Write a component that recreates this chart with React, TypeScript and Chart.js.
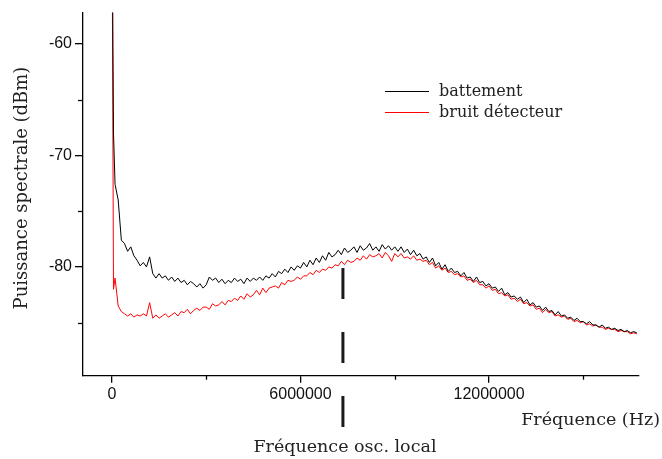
import React, { useEffect, useRef } from "react";
import { Chart, registerables } from "chart.js";

Chart.register(...registerables);

// Frequencies in MHz (converted to Hz for the axis)
const FREQ_MHZ = [
  0, 0.05,
  0.1, 0.2, 0.3, 0.4, 0.5, 0.6, 0.7, 0.8, 0.9, 1.0,
  1.1, 1.2, 1.3, 1.4, 1.5, 1.6, 1.7, 1.8, 1.9, 2.0,
  2.1, 2.2, 2.3, 2.4, 2.5, 2.6, 2.7, 2.8, 2.9, 3.0,
  3.1, 3.2, 3.3, 3.4, 3.5, 3.6, 3.7, 3.8, 3.9, 4.0,
  4.1, 4.2, 4.3, 4.4, 4.5, 4.6, 4.7, 4.8, 4.9, 5.0,
  5.1, 5.2, 5.3, 5.4, 5.5, 5.6, 5.7, 5.8, 5.9, 6.0,
  6.1, 6.2, 6.3, 6.4, 6.5, 6.6, 6.7, 6.8, 6.9, 7.0,
  7.1, 7.2, 7.3, 7.4, 7.5, 7.6, 7.7, 7.8, 7.9, 8.0,
  8.1, 8.2, 8.3, 8.4, 8.5, 8.6, 8.7, 8.8, 8.9, 9.0,
  9.1, 9.2, 9.3, 9.4, 9.5, 9.6, 9.7, 9.8, 9.9, 10.0,
  10.1, 10.2, 10.3, 10.4, 10.5, 10.6, 10.7, 10.8, 10.9, 11.0,
  11.1, 11.2, 11.3, 11.4, 11.5, 11.6, 11.7, 11.8, 11.9, 12.0,
  12.1, 12.2, 12.3, 12.4, 12.5, 12.6, 12.7, 12.8, 12.9, 13.0,
  13.1, 13.2, 13.3, 13.4, 13.5, 13.6, 13.7, 13.8, 13.9, 14.0,
  14.1, 14.2, 14.3, 14.4, 14.5, 14.6, 14.7, 14.8, 14.9, 15.0,
  15.1, 15.2, 15.3, 15.4, 15.5, 15.6, 15.7, 15.8, 15.9, 16.0,
  16.1, 16.2, 16.3, 16.4, 16.5, 16.6, 16.7,
];

const BATTEMENT_DBM = [
  -45, -68,
  -72.6, -74.0, -77.6, -77.9, -78.6, -78.2, -79.0, -79.4, -79.9, -79.6,
  -80.0, -79.1, -80.6, -81.0, -80.6, -81.0, -80.8, -81.2, -80.9, -81.3,
  -81.0, -81.4, -81.2, -81.6, -81.3, -81.5, -81.8, -81.5, -81.9, -81.6,
  -80.9, -81.2, -81.0, -81.4, -81.1, -81.5, -81.2, -81.4, -81.0, -81.3,
  -81.1, -81.5, -81.0, -81.3, -81.0, -81.2, -80.9, -81.2, -80.8, -81.0,
  -80.6, -80.9, -80.4, -80.6, -80.2, -80.5, -80.0, -80.3, -79.9, -80.1,
  -79.6, -80.0, -79.4, -79.8, -79.2, -79.6, -79.0, -79.4, -78.7, -79.1,
  -78.9, -78.5, -78.9, -78.3, -78.7, -78.5, -78.2, -78.7, -78.1, -78.5,
  -78.3, -77.9, -78.5, -78.2, -78.6, -78.0, -78.4, -78.1, -78.5, -78.2,
  -78.6, -78.2, -78.7, -78.4, -78.9, -78.5, -79.0, -78.8, -79.3, -79.1,
  -79.6, -79.2, -79.9, -79.6, -80.2, -79.8, -80.4, -80.1, -80.5, -80.4,
  -80.8, -80.5, -81.0, -80.9, -81.3, -80.9, -81.4, -81.3, -81.7, -81.5,
  -81.9, -81.8, -82.2, -81.9, -82.5, -82.3, -82.7, -82.6, -82.9, -82.7,
  -83.2, -82.9, -83.4, -83.2, -83.6, -83.5, -83.9, -83.6, -84.0, -83.9,
  -84.3, -84.0, -84.4, -84.3, -84.6, -84.5, -84.8, -84.6, -84.9, -84.9,
  -85.1, -84.9, -85.2, -85.2, -85.4, -85.2, -85.5, -85.4, -85.6, -85.5,
  -85.7, -85.6, -85.8, -85.7, -85.9, -85.8, -85.9,
];

const BRUIT_DBM = [
  -45, -82.0,
  -81.0, -83.5, -84.0, -84.2, -84.4, -84.2, -84.5, -84.3, -84.4, -84.2,
  -84.4, -83.2, -84.6, -84.3, -84.6, -84.4, -84.2, -84.5, -84.3, -84.1,
  -84.4, -84.0, -84.1, -83.8, -84.2, -83.9, -83.7, -83.9, -83.6, -83.6,
  -83.8, -83.3, -83.5, -83.4, -83.1, -83.4, -83.0, -83.1, -82.8, -83.0,
  -82.6, -82.9, -82.4, -82.7, -82.5, -82.1, -82.5, -81.9, -82.3, -81.9,
  -81.8, -81.7, -81.9, -81.4, -81.6, -81.2, -81.3, -81.2, -80.9, -81.1,
  -80.8, -80.8, -80.5, -80.7, -80.3, -80.5, -80.2, -80.3, -80.0, -80.1,
  -79.8, -79.9, -79.5, -79.8, -79.4, -79.6, -79.5, -79.2, -79.4, -79.0,
  -79.3, -78.9, -79.1, -79.0, -78.8, -79.2, -78.7, -79.0, -79.5, -78.8,
  -79.1, -78.8, -79.2, -79.1, -79.3, -79.0, -79.4, -79.3, -79.5, -79.4,
  -79.8, -79.6, -80.1, -79.9, -80.3, -80.1, -80.5, -80.4, -80.7, -80.6,
  -80.9, -80.8, -81.2, -81.1, -81.4, -81.2, -81.6, -81.6, -81.9, -81.7,
  -82.1, -82.0, -82.4, -82.3, -82.6, -82.5, -82.9, -82.8, -83.1, -82.9,
  -83.3, -83.2, -83.5, -83.4, -83.8, -83.7, -84.1, -83.8, -84.1, -84.0,
  -84.4, -84.3, -84.5, -84.4, -84.7, -84.6, -84.9, -84.8, -85.0, -84.9,
  -85.2, -85.1, -85.3, -85.2, -85.4, -85.4, -85.6, -85.5, -85.6, -85.6,
  -85.8, -85.7, -85.8, -85.8, -86.0, -85.9, -86.0,
];

const X_TICKS = [0, 6000000, 12000000];
const X_MINOR_TICKS = [3000000, 9000000, 15000000];
const Y_TICKS = [-80, -70, -60];
const Y_MINOR_TICKS = [-85, -75, -65];

const X_MIN = -920000;
const X_MAX = 16770000;
const Y_MIN = -89.75;
const Y_MAX = -57.2;

const LO_FREQ_HZ = 7350000;
const LO_TOP_DBM = -80.1;

const SERIES_NAMES = ["battement", "bruit détecteur"];
const SERIES_COLORS = ["#000000", "#ff0000"];
const X_TITLE = "Fréquence (Hz)";
const Y_TITLE = "Puissance spectrale (dBm)";
const LO_LABEL = "Fréquence osc. local";

const SERIF = "'DejaVu Serif', serif";
const SANS = "'Liberation Sans', Arial, sans-serif";

const overlayPlugin = {
  id: "overlay",
  afterDraw(chart: any) {
    const ctx = chart.ctx as CanvasRenderingContext2D;
    const xs = chart.scales.x;
    const ys = chart.scales.y;
    const area = chart.chartArea;
    ctx.save();
    // minor ticks
    ctx.strokeStyle = "#000";
    ctx.lineWidth = 1.3;
    X_MINOR_TICKS.forEach((v) => {
      const px = Math.round(xs.getPixelForValue(v)) + 0.5;
      ctx.beginPath();
      ctx.moveTo(px, area.bottom);
      ctx.lineTo(px, area.bottom + 4);
      ctx.stroke();
    });
    Y_MINOR_TICKS.forEach((v) => {
      const py = Math.round(ys.getPixelForValue(v)) + 0.5;
      ctx.beginPath();
      ctx.moveTo(area.left - 5, py);
      ctx.lineTo(area.left, py);
      ctx.stroke();
    });

    // local oscillator dashed marker
    const lx = xs.getPixelForValue(LO_FREQ_HZ);
    const ly = ys.getPixelForValue(LO_TOP_DBM);
    ctx.strokeStyle = "#1a1a1a";
    ctx.lineWidth = 3;
    ctx.setLineDash([31, 33]);
    ctx.beginPath();
    ctx.moveTo(lx, ly);
    ctx.lineTo(lx, ly + 160);
    ctx.stroke();
    ctx.setLineDash([]);

    // legend
    const legX = 385;
    const legY = [91, 112];
    SERIES_NAMES.forEach((name, i) => {
      ctx.strokeStyle = SERIES_COLORS[i];
      ctx.lineWidth = 1;
      ctx.beginPath();
      ctx.moveTo(legX, legY[i] + 0.5);
      ctx.lineTo(legX + 44, legY[i] + 0.5);
      ctx.stroke();
      ctx.fillStyle = "#222";
      ctx.font = `16px ${SERIF}`;
      ctx.textAlign = "left";
      ctx.textBaseline = "alphabetic";
      ctx.fillText(name, legX + 54, legY[i] + 4.5);
    });

    // titles
    ctx.fillStyle = "#222";
    ctx.font = `17.5px ${SERIF}`;
    ctx.textAlign = "right";
    ctx.textBaseline = "middle";
    ctx.fillText(X_TITLE, 660, 420);

    ctx.textAlign = "center";
    ctx.fillText(LO_LABEL, lx + 2, 447);

    ctx.font = `18px ${SERIF}`;
    ctx.translate(22, 188);
    ctx.rotate(-Math.PI / 2);
    ctx.textAlign = "center";
    ctx.textBaseline = "middle";
    ctx.fillText(Y_TITLE, 0, 0);
    ctx.restore();
  },
};

export default function App() {
  const canvasRef = useRef<HTMLCanvasElement | null>(null);

  useEffect(() => {
    const canvas = canvasRef.current;
    if (!canvas) return;
    const toPoints = (vals: number[]) =>
      FREQ_MHZ.map((f, i) => ({ x: f * 1e6, y: vals[i] }));

    const chart = new Chart(canvas, {
      type: "line",
      data: {
        datasets: [
          {
            label: SERIES_NAMES[0],
            data: toPoints(BATTEMENT_DBM),
            borderColor: SERIES_COLORS[0],
            borderWidth: 1,
            pointRadius: 0,
            tension: 0,
            order: 1,
          },
          {
            label: SERIES_NAMES[1],
            data: toPoints(BRUIT_DBM),
            borderColor: SERIES_COLORS[1],
            borderWidth: 1,
            pointRadius: 0,
            tension: 0,
            order: 2,
          },
        ],
      },
      options: {
        responsive: false,
        animation: false,
        devicePixelRatio: 1,
        layout: { padding: { top: 10, right: 23, left: 0, bottom: 0 } },
        plugins: {
          legend: { display: false },
          tooltip: { enabled: false },
        },
        scales: {
          x: {
            type: "linear",
            min: X_MIN,
            max: X_MAX,
            afterFit: (s: any) => {
              s.height = 83.3;
            },
            afterBuildTicks: (s: any) => {
              s.ticks = X_TICKS.map((v) => ({ value: v }));
            },
            border: { display: true, color: "#000", width: 1.3 },
            grid: {
              drawOnChartArea: false,
              drawTicks: true,
              tickLength: 7,
              color: "#000",
              lineWidth: 1.3,
            },
            ticks: {
              font: { family: SANS, size: 16 },
              color: "#111",
              padding: 2,
              maxRotation: 0,
              callback: (v: any) => String(v),
            },
          },
          y: {
            type: "linear",
            min: Y_MIN,
            max: Y_MAX,
            afterFit: (s: any) => {
              s.width = 83;
            },
            afterBuildTicks: (s: any) => {
              s.ticks = Y_TICKS.map((v) => ({ value: v }));
            },
            border: { display: true, color: "#000", width: 1.3 },
            grid: {
              drawOnChartArea: false,
              drawTicks: true,
              tickLength: 8,
              color: "#000",
              lineWidth: 1.3,
            },
            ticks: {
              font: { family: SANS, size: 16 },
              color: "#111",
              padding: 3,
              callback: (v: any) => String(v),
            },
          },
        },
      },
      plugins: [overlayPlugin],
    } as any);

    return () => chart.destroy();
  }, []);

  return (
    <div style={{ position: "absolute", left: 0, top: 0, width: 662, height: 459, background: "#fff" }}>
      <canvas ref={canvasRef} width={662} height={459} />
    </div>
  );
}
